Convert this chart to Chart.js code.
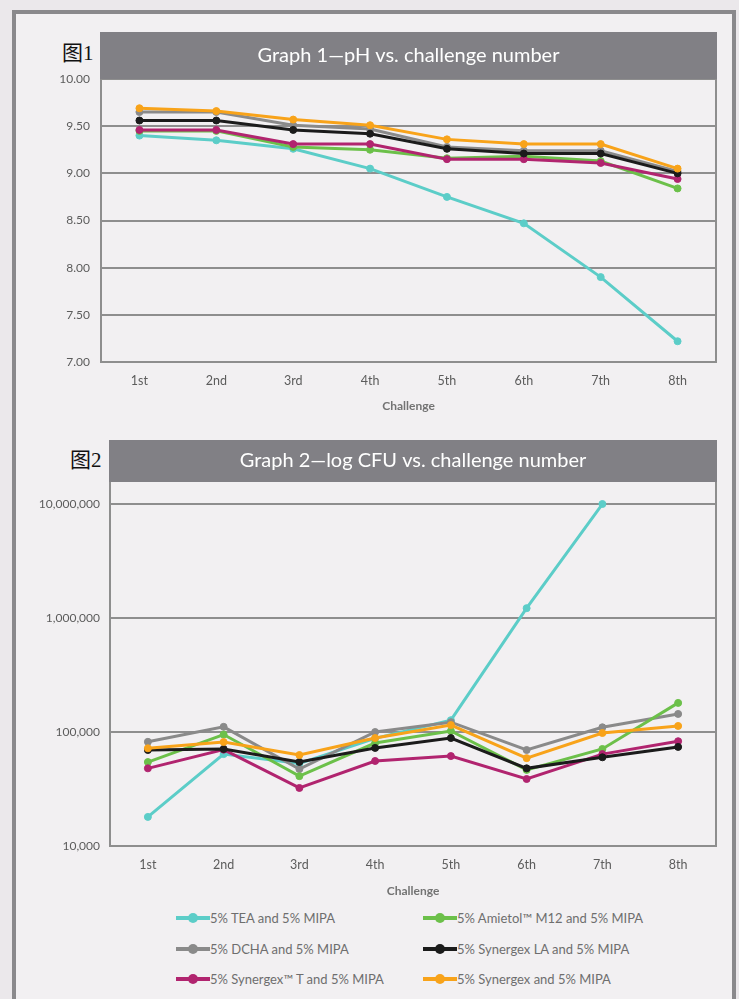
<!DOCTYPE html>
<html>
<head>
<meta charset="utf-8">
<script src="https://cdn.jsdelivr.net/npm/chart.js@4.4.1/dist/chart.umd.min.js"></script>
<style>
  html, body { margin: 0; padding: 0; }
  body {
    width: 739px; height: 999px; overflow: hidden; position: relative;
    background: #ebe8eb;
    font-family: Lato, "Noto Sans", sans-serif;
  }
  .frame {
    position: absolute; left: 12px; top: 10px; width: 716px; height: 1010px;
    border: 4px solid #8a898c; background: #f2f0f2;
  }
  .fig-label {
    position: absolute; font-family: "Liberation Serif", "Noto Sans CJK SC", serif;
    font-size: 21px; color: #111;
  }
  .chart-box { position: absolute; left: 0; width: 739px; }
  #legend {
    position: absolute; left: 176px; top: 903px;
    display: grid; grid-template-columns: 247px 260px; row-gap: 0;
  }
  .item { display: flex; align-items: center; height: 30.5px; font-size: 13px; color: #6e6e6e; }
  .swatch { position: relative; width: 34px; height: 4px; margin-right: 0; }
  .swatch i {
    position: absolute; left: 12px; top: -3px; width: 10px; height: 10px; border-radius: 50%;
  }
</style>
</head>
<body>
<div class="frame"></div>
<div class="fig-label" style="left:62px; top:36px;">图1</div>
<div class="fig-label" style="left:70px; top:443px;">图2</div>

<div class="chart-box" style="top:30px; height:383px;"><canvas id="phChart"></canvas></div>
<div class="chart-box" style="top:436px; height:462px;"><canvas id="cfuChart"></canvas></div>
<div id="legend"></div>

<script>
const challenges = ['1st', '2nd', '3rd', '4th', '5th', '6th', '7th', '8th'];

const seriesNames = [
  '5% TEA and 5% MIPA',
  '5% Amietol™ M12 and 5% MIPA',
  '5% DCHA and 5% MIPA',
  '5% Synergex LA and 5% MIPA',
  '5% Synergex™ T and 5% MIPA',
  '5% Synergex and 5% MIPA',
];
const seriesColors = ['#5ccdc8', '#6cc04a', '#8a8a8a', '#1b1b1b', '#b1246f', '#f8a31a'];
// lower number is drawn on top
const drawOrder = [6, 4, 5, 2, 3, 1];

// Graph 1 - pH
const phTea      = [9.40, 9.35, 9.26, 9.05, 8.75, 8.47, 7.90, 7.22];
const phAmietol  = [9.45, 9.45, 9.28, 9.25, 9.16, 9.18, 9.13, 8.84];
const phDcha     = [9.65, 9.65, 9.51, 9.47, 9.28, 9.24, 9.24, 9.02];
const phLa       = [9.56, 9.56, 9.46, 9.42, 9.26, 9.21, 9.21, 9.00];
const phSynT     = [9.46, 9.46, 9.31, 9.31, 9.15, 9.15, 9.11, 8.94];
const phSynergex = [9.69, 9.66, 9.57, 9.51, 9.36, 9.31, 9.31, 9.05];
const phTicks = [7.00, 7.50, 8.00, 8.50, 9.00, 9.50, 10.00];

// Graph 2 - CFU (log)
const cfuTea      = [18000, 64000, 53000, 88000, 127000, 1220000, 10000000, null];
const cfuAmietol  = [54500, 95000, 41000, 80000, 102000, 46500, 71000, 180000];
const cfuDcha     = [82000, 111000, 47300, 100000, 122000, 69500, 110000, 144000];
const cfuLa       = [69500, 71000, 54600, 72500, 88500, 48000, 60000, 74000];
const cfuSynT     = [48000, 70000, 32300, 55700, 61500, 38700, 64000, 83000];
const cfuSynergex = [72000, 81700, 62800, 88500, 115000, 59000, 98000, 113000];
const cfuTicks = [10000, 100000, 1000000, 10000000];

const gridColor = '#8e8e8e';
const tickFont = { family: 'Lato', size: 12 };

const makeDatasets = (rows) => rows.map((data, i) => ({
  label: seriesNames[i],
  data: data,
  borderColor: seriesColors[i],
  backgroundColor: seriesColors[i],
  pointBackgroundColor: seriesColors[i],
  borderWidth: 3,
  pointRadius: 3.5,
  pointBorderWidth: 1,
  order: drawOrder[i],
  tension: 0,
  spanGaps: false,
}));

// grey heading strip above the plot plus the right border line
const titleBar = {
  id: 'titleBar',
  afterDraw(chart, args, opts) {
    const { ctx, chartArea } = chart;
    ctx.save();
    ctx.fillStyle = '#818085';
    ctx.fillRect(chartArea.left - 1, chartArea.top - opts.height, chartArea.right - chartArea.left + 2, opts.height);
    ctx.fillStyle = '#ffffff';
    ctx.font = '20px Lato';
    ctx.textAlign = 'center';
    ctx.textBaseline = 'middle';
    ctx.fillText(opts.text, (chartArea.left + chartArea.right) / 2, chartArea.top - opts.height / 2);
    ctx.strokeStyle = gridColor;
    ctx.lineWidth = 2;
    ctx.beginPath();
    ctx.moveTo(chartArea.right, chartArea.top);
    ctx.lineTo(chartArea.right, chartArea.bottom + 1);
    ctx.stroke();
    ctx.restore();
  }
};

const xScale = (height) => ({
  offset: true,
  grid: { display: false, drawTicks: false, offset: true },
  border: { display: true, color: gridColor, width: 2 },
  ticks: { color: '#5c5c5c', font: { family: 'Lato', size: 12.5 }, padding: 11 },
  title: { display: true, text: 'Challenge', color: '#737373', font: { family: 'Lato', size: 12, weight: 'bold' }, padding: 0 },
  afterFit: (scale) => { scale.height = height; },
});

const commonPlugins = {
  legend: { display: false },
  tooltip: { enabled: false },
};

new Chart(document.getElementById('phChart'), {
  type: 'line',
  data: {
    labels: challenges,
    datasets: makeDatasets([phTea, phAmietol, phDcha, phLa, phSynT, phSynergex]),
  },
  options: {
    responsive: true,
    maintainAspectRatio: false,
    animation: false,
    layout: { padding: { top: 49, right: 23, left: 0, bottom: 0 } },
    scales: {
      x: xScale(51),
      y: {
        min: 7, max: 10,
        afterBuildTicks: (scale) => { scale.ticks = phTicks.map(v => ({ value: v })); },
        afterFit: (scale) => { scale.width = 101; },
        grid: { color: gridColor, lineWidth: 2, drawTicks: false },
        border: { display: true, color: gridColor, width: 2 },
        ticks: { color: '#5c5c5c', font: tickFont, padding: 11, callback: (v) => Number(v).toFixed(2) },
      },
    },
    plugins: {
      ...commonPlugins,
      titleBar: { text: 'Graph 1\u2014pH vs. challenge number', height: 47 },
    },
  },
  plugins: [titleBar],
});

new Chart(document.getElementById('cfuChart'), {
  type: 'line',
  data: {
    labels: challenges,
    datasets: makeDatasets([cfuTea, cfuAmietol, cfuDcha, cfuLa, cfuSynT, cfuSynergex]),
  },
  options: {
    responsive: true,
    maintainAspectRatio: false,
    animation: false,
    layout: { padding: { top: 46, right: 23, left: 0, bottom: 0 } },
    scales: {
      x: xScale(52),
      y: {
        type: 'logarithmic',
        min: 10000, max: 15600000,
        afterBuildTicks: (scale) => { scale.ticks = cfuTicks.map(v => ({ value: v })); },
        afterFit: (scale) => { scale.width = 110; },
        grid: { color: gridColor, lineWidth: 2, drawTicks: false },
        border: { display: true, color: gridColor, width: 2 },
        ticks: { color: '#5c5c5c', font: tickFont, padding: 10, callback: (v) => Number(v).toLocaleString('en-US') },
      },
    },
    plugins: {
      ...commonPlugins,
      titleBar: { text: 'Graph 2\u2014log CFU vs. challenge number', height: 42 },
    },
  },
  plugins: [titleBar],
});

// two-column legend shared by both graphs
const legendEl = document.getElementById('legend');
seriesNames.forEach((name, i) => {
  const item = document.createElement('div');
  item.className = 'item';
  item.innerHTML = '<span class="swatch" style="background:' + seriesColors[i] + '"><i style="background:' +
    seriesColors[i] + '"></i></span><span></span>';
  item.lastChild.textContent = name;
  legendEl.appendChild(item);
});
</script>
</body>
</html>
